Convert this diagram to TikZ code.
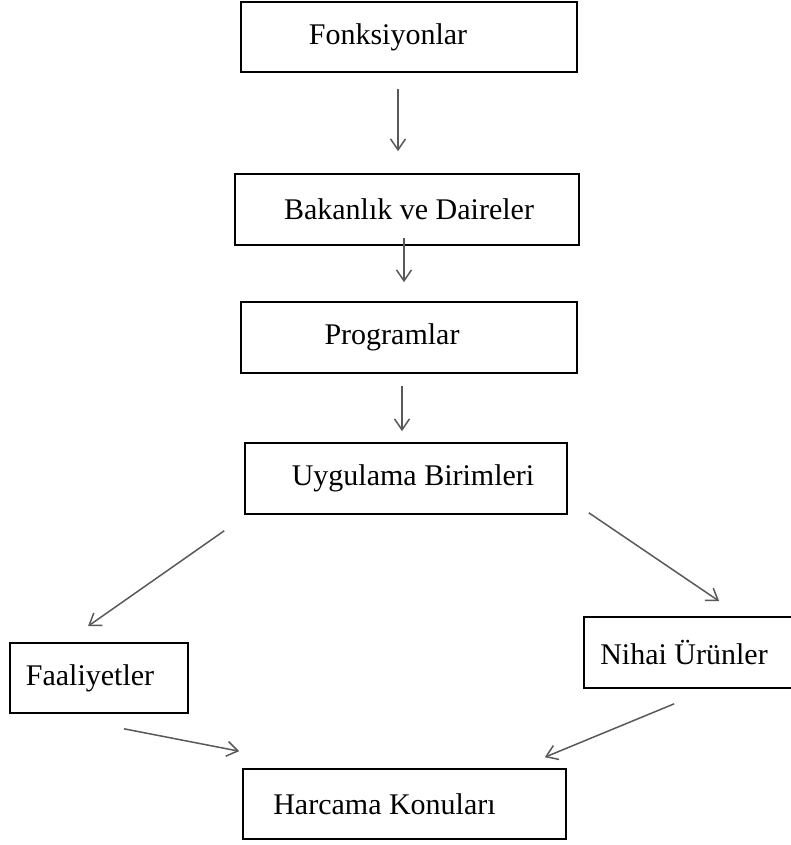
\documentclass[tikz,border=0pt]{standalone}
\usepackage{fontspec}
\setmainfont{Liberation Serif}
\usetikzlibrary{arrows.meta, positioning}

\tikzset{
  box/.style={draw, rectangle, line width=1.6pt, minimum height=70pt, inner sep=0pt},
  flow/.style={-{Straight Barb[length=11pt, width=15pt]}, line width=1.5pt, draw=black!65},
}

\begin{document}
\begin{tikzpicture}[x=1pt, y=-1pt, font=\fontsize{30}{36}\selectfont]
  \useasboundingbox (0,0) rectangle (791,845);
  \clip (0,0) rectangle (791,845);

  % centre column
  \node[box, minimum width=336pt, label={[xshift=-21pt]center:Fonksiyonlar}] (fonk) at (409,37) {};
  \node[box, minimum width=344pt, minimum height=71pt, label={[xshift=2pt]center:Bakanlık ve Daireler}] (bak) at (407,209.5) {};
  \node[box, minimum width=336pt, minimum height=71pt, label={[xshift=-17pt]center:Programlar}] (prog) at (409,337.5) {};
  \node[box, minimum width=322pt, minimum height=71pt, label={[xshift=7pt]center:Uygulama Birimleri}] (uyg) at (406,478.5) {};

  % side boxes
  \node[box, minimum width=178pt, label={[xshift=-9pt]center:Faaliyetler}] (faal) at (99,678) {};
  \node[box, minimum width=216pt, minimum height=71pt, label={[xshift=-8pt]center:Nihai Ürünler}] (nihai) at (692,652.5) {};

  \node[box, minimum width=323pt, label={[xshift=-20pt]center:Harcama Konuları}] (harc) at (404.5,804) {};

  \draw[flow] ([xshift=-11pt, yshift=-16pt]fonk.south) -- ([xshift=-9pt, yshift=22pt]bak.north);
  \draw[flow] ([xshift=-3pt, yshift=8pt]bak.south) -- ([xshift=-5pt, yshift=19pt]prog.north);
  \draw[flow] ([xshift=-7pt, yshift=-12pt]prog.south) -- ([xshift=-4pt, yshift=11pt]uyg.north);

  \draw[flow] ([xshift=-20pt, yshift=-16pt]uyg.south west) -- ([xshift=-11pt, yshift=16pt]faal.north);
  \draw[flow] ([xshift=21pt, yshift=2pt]uyg.south east) -- ([xshift=136pt, yshift=15pt]nihai.north west);

  \draw[flow] ([xshift=25pt, yshift=-15pt]faal.south) -- ([xshift=-3pt, yshift=17pt]harc.north west);
  \draw[flow] ([xshift=91pt, yshift=-15pt]nihai.south west) -- ([xshift=-22pt, yshift=11pt]harc.north east);
\end{tikzpicture}
\end{document}
